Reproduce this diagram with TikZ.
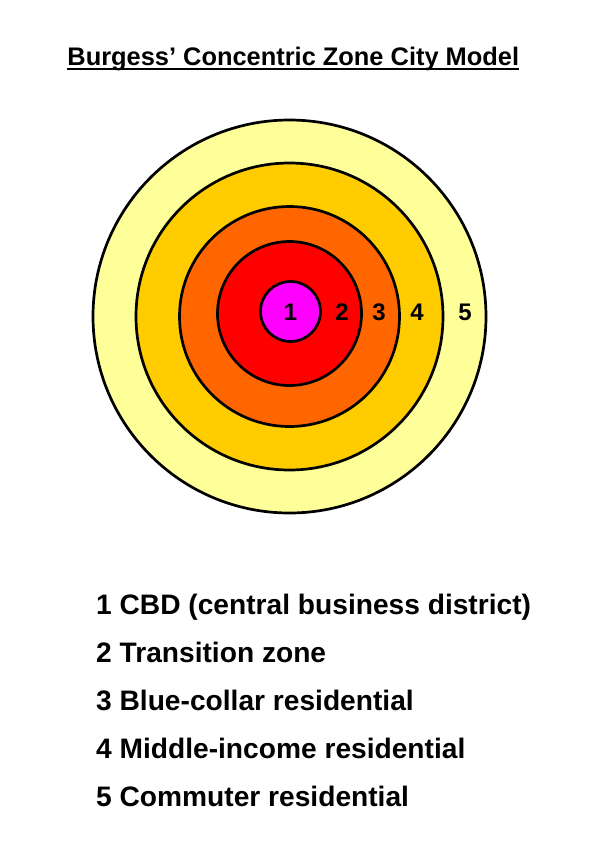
\documentclass[tikz,border=0pt]{standalone}
\usepackage{fontspec}
\setmainfont{Liberation Sans}
\usepackage{xcolor}
\definecolor{zone1}{RGB}{255,0,255}
\definecolor{zone2}{RGB}{255,0,0}
\definecolor{zone3}{RGB}{255,102,0}
\definecolor{zone4}{RGB}{255,204,0}
\definecolor{zone5}{RGB}{255,255,153}
\tikzset{
 ring/.style={draw=black, line width=2.7pt, circle, inner sep=0pt},
 zonenum/.style={font=\fontsize{24pt}{28pt}\selectfont\bfseries, inner sep=0pt, anchor=base},
 legend/.style={font=\fontsize{28.15pt}{32pt}\selectfont\bfseries, anchor=base west, inner sep=0pt}
}
\begin{document}
\begin{tikzpicture}[x=1pt,y=-1pt]
\useasboundingbox (0,0) rectangle (604,847);
\fill[white] (0,0) rectangle (604,847);

\node [font=\fontsize{25.4pt}{30pt}\selectfont\bfseries, inner sep=0pt, anchor=base] (title) at (293.3,65) {Burgess’ Concentric Zone City Model};
\draw [line width=2pt] ([yshift=-3.5pt]title.base west) -- ([yshift=-3.5pt]title.base east);

\node [ring, fill=zone5, minimum size=393pt] (c5) at (289.5,316.5) {};
\node [ring, fill=zone4, minimum size=307pt] (c4) at (289.5,316.5) {};
\node [ring, fill=zone3, minimum size=220pt] (c3) at (289.5,316.5) {};
\node [ring, fill=zone2, minimum size=144pt] (c2) at (289.5,313.5) {};
\node [ring, fill=zone1, minimum size=60pt] (c1) at (290.5,311.5) {};

\node [zonenum] (n1) at (290.5,320) {1};
\node [zonenum] (n2) at (342,320) {2};
\node [zonenum] (n3) at (379,320) {3};
\node [zonenum] (n4) at (417,320) {4};
\node [zonenum] (n5) at (465,320) {5};

\node [legend] (l1) at (96,614.5) {1 CBD (central business district)};
\node [legend] (l2) at (96,662.5) {2 Transition zone};
\node [legend] (l3) at (96,710.5) {3 Blue-collar residential};
\node [legend] (l4) at (96,758.5) {4 Middle-income residential};
\node [legend] (l5) at (96,806.5) {5 Commuter residential};
\end{tikzpicture}
\end{document}
